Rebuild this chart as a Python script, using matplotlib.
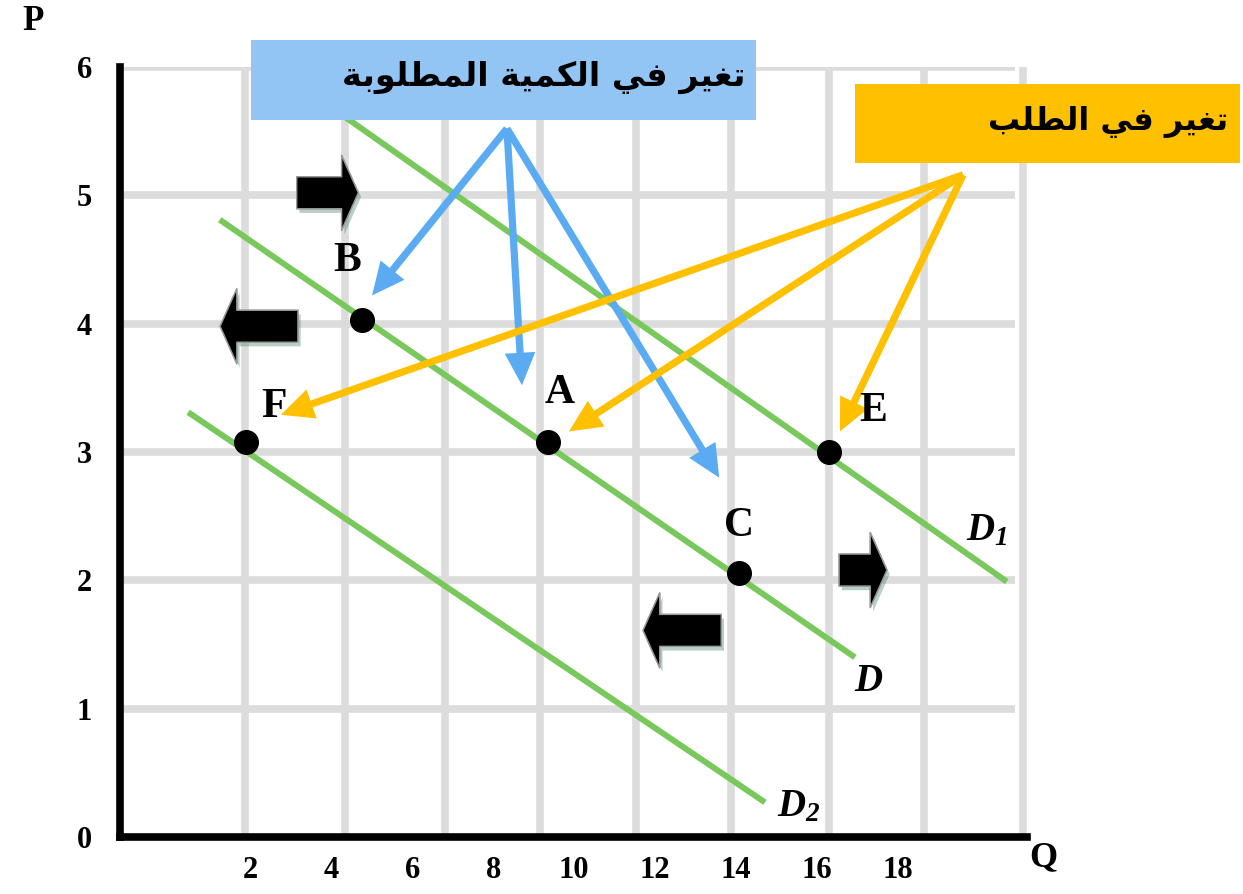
import numpy as np
import matplotlib
matplotlib.use("Agg")
import matplotlib.pyplot as plt
import matplotlib.patheffects as pe
from matplotlib.patches import Rectangle

# Points on the demand curves (quantity, price)
point_names = ["B", "A", "C", "E", "F"]
point_q = [4.75, 9.35, 14.08, 16.28, 1.9]
point_p = [4.03, 3.08, 2.06, 3.0, 3.08]

# Demand curves, given by their two end points
curve_labels = ["$D$", "$D_1$", "$D_2$"]
curve_q = [[1.25, 16.93], [4.21, 20.68], [0.47, 14.71]]
curve_p = [[4.81, 1.40], [5.64, 1.99], [3.31, 0.27]]

x_ticks = [2, 4, 6, 8, 10, 12, 14, 16, 18]
y_ticks = [0, 1, 2, 3, 4, 5, 6]

# Annotation texts
qty_text = "تغير في الكمية المطلوبة"
dem_text = "تغير في الطلب"

# Arrow sources and targets (data units)
qty_src = (8.34, 5.52)
qty_dst_q = [5.01, 8.71, 13.58]
qty_dst_p = [4.22, 3.52, 2.8]
dem_src = (19.6, 5.16)
dem_dst_q = [2.76, 9.87, 16.56]
dem_dst_p = [3.29, 3.16, 3.16]

# Shift arrows: tail q, head q, p
shift_tail = [3.15, 3.18, 16.54, 13.63]
shift_head = [4.67, 1.26, 17.72, 11.7]
shift_p = [5.02, 3.98, 2.08, 1.61]

W, H = 1243, 894
GRID = "#dcdcdc"
GREEN = "#78c85c"
BLUE = "#5aabf2"
ORANGE = "#ffc000"

# Arabic letter forms: isolated, final, initial, medial
FORMS = {
    "ا": ("\uFE8D", "\uFE8E", None, None),
    "ب": ("\uFE8F", "\uFE90", "\uFE91", "\uFE92"),
    "ة": ("\uFE93", "\uFE94", None, None),
    "ت": ("\uFE95", "\uFE96", "\uFE97", "\uFE98"),
    "ر": ("\uFEAD", "\uFEAE", None, None),
    "ط": ("\uFEC1", "\uFEC2", "\uFEC3", "\uFEC4"),
    "غ": ("\uFECD", "\uFECE", "\uFECF", "\uFED0"),
    "ف": ("\uFED1", "\uFED2", "\uFED3", "\uFED4"),
    "ك": ("\uFED9", "\uFEDA", "\uFEDB", "\uFEDC"),
    "ل": ("\uFEDD", "\uFEDE", "\uFEDF", "\uFEE0"),
    "م": ("\uFEE1", "\uFEE2", "\uFEE3", "\uFEE4"),
    "و": ("\uFEED", "\uFEEE", None, None),
    "ي": ("\uFEF1", "\uFEF2", "\uFEF3", "\uFEF4"),
}


def shape_arabic(s):
    """Join Arabic letters and put them in visual (left to right) order."""
    out = []
    for i, ch in enumerate(s):
        if ch not in FORMS:
            out.append(ch)
            continue
        prev = s[i - 1] if i > 0 else ""
        nxt = s[i + 1] if i + 1 < len(s) else ""
        join_prev = prev in FORMS and FORMS[prev][2] is not None
        join_next = nxt in FORMS and FORMS[ch][2] is not None
        iso, fin, ini, med = FORMS[ch]
        if join_prev and join_next:
            out.append(med)
        elif join_prev:
            out.append(fin)
        elif join_next:
            out.append(ini)
        else:
            out.append(iso)
    return "".join(reversed(out))


def fig_xy(x, y):
    return x / W, 1 - y / H


plt.rcParams["mathtext.fontset"] = "custom"
plt.rcParams["mathtext.it"] = "Liberation Serif:italic:bold"
plt.rcParams["mathtext.rm"] = "Liberation Serif:italic:bold"

fig = plt.figure(figsize=(W / 100, H / 100), dpi=100)
fig.patch.set_facecolor("white")
ax = fig.add_axes([120 / W, 57 / H, 907 / W, 770 / H])
ax.set_xlim(-1.212, 21.178)
ax.set_ylim(0, 6)

# grid
grid_x = [1.88, 4.35, 6.81, 9.16, 11.53, 13.88, 16.29, 18.64, 21.08]
ax.vlines(grid_x, 0, 6, color=GRID, lw=5.5, zorder=0)
ax.hlines(y_ticks[1:], -1.21, 20.89, color=GRID, lw=5.5, zorder=0)

for side in ["top", "right"]:
    ax.spines[side].set_visible(False)
for side in ["left", "bottom"]:
    ax.spines[side].set_linewidth(5.5)
    ax.spines[side].set_capstyle("projecting")
    ax.spines[side].set_zorder(5)

ax.set_xticks(x_ticks)
ax.set_xticklabels([str(t) for t in x_ticks], fontsize=22, fontweight="bold",
                   family="Liberation Serif")
ax.set_yticks(y_ticks)
ax.set_yticklabels([str(t) for t in y_ticks], fontsize=22, fontweight="bold",
                   family="Liberation Serif")
ax.tick_params(length=0)
ax.tick_params(axis="x", pad=14)
ax.tick_params(axis="y", pad=20)

# demand curves
for q, p in zip(curve_q, curve_p):
    ax.plot(q, p, color=GREEN, lw=4.3, solid_capstyle="butt", zorder=2)

label_pos = [(17.28, 1.22), (20.19, 2.4), (15.53, 0.25)]
for lab, (lq, lp) in zip(curve_labels, label_pos):
    ax.text(lq, lp, lab, fontsize=28, ha="center", va="center")

# points
ax.plot(point_q, point_p, "o", color="black", ms=17, zorder=6)
point_lab_off = [(-0.35, 0.46), (0.3, 0.38), (0.0, 0.36), (1.1, 0.32), (0.7, 0.27)]
for name, q, p, (dq, dp) in zip(point_names, point_q, point_p, point_lab_off):
    ax.text(q + dq, p + dp, name, fontsize=30, fontweight="bold",
            family="Liberation Serif", ha="center", va="center", zorder=6)

# annotation arrows
arrow_style = "simple,head_length=1.8,head_width=1.7,tail_width=0.4"
for q, p in zip(qty_dst_q, qty_dst_p):
    ax.annotate("", xy=(q, p), xytext=qty_src,
                arrowprops=dict(arrowstyle=arrow_style, mutation_scale=13, fc=BLUE,
                                ec="none", shrinkA=0, shrinkB=0), zorder=4)
for q, p in zip(dem_dst_q, dem_dst_p):
    ax.annotate("", xy=(q, p), xytext=dem_src,
                arrowprops=dict(arrowstyle=arrow_style, mutation_scale=13, fc=ORANGE,
                                ec="none", shrinkA=0, shrinkB=0), zorder=4)

# shift arrows
shadow = [pe.withSimplePatchShadow(offset=(2, -3), shadow_rgbFace="#2f7a66", alpha=0.35),
          pe.Normal()]
for t, h, p in zip(shift_tail, shift_head, shift_p):
    ann = ax.annotate("", xy=(h, p), xytext=(t, p),
                      arrowprops=dict(arrowstyle="simple,head_length=0.6,head_width=2.7,tail_width=1.15",
                                      mutation_scale=20, fc="black", ec="#9a9a9a", lw=1,
                                      shrinkA=0, shrinkB=0), zorder=5)
    ann.arrow_patch.set_path_effects(shadow)

# text boxes
x0, y0 = fig_xy(251, 120)
x1, y1 = fig_xy(756, 40)
fig.patches.append(Rectangle((x0, y0), x1 - x0, y1 - y0, transform=fig.transFigure,
                             fc="#93c5f4", ec="none", zorder=7))
fig.text(*fig_xy(745, 77), shape_arabic(qty_text), fontsize=24, fontweight="bold",
         family="DejaVu Sans", ha="right", va="center", zorder=8)

x0, y0 = fig_xy(855, 163)
x1, y1 = fig_xy(1240, 84)
fig.patches.append(Rectangle((x0, y0), x1 - x0, y1 - y0, transform=fig.transFigure,
                             fc=ORANGE, ec="none", zorder=7))
fig.text(*fig_xy(1228, 122), shape_arabic(dem_text), fontsize=23, fontweight="bold",
         family="DejaVu Sans", ha="right", va="center", zorder=8)

# axis names
fig.text(*fig_xy(33, 22), "P", fontsize=25, fontweight="bold", family="Liberation Serif",
         ha="center", va="center")
fig.text(*fig_xy(1043, 858), "Q", fontsize=26, fontweight="bold", family="Liberation Serif",
         ha="center", va="center")

fig.savefig("out.png", dpi=100)
